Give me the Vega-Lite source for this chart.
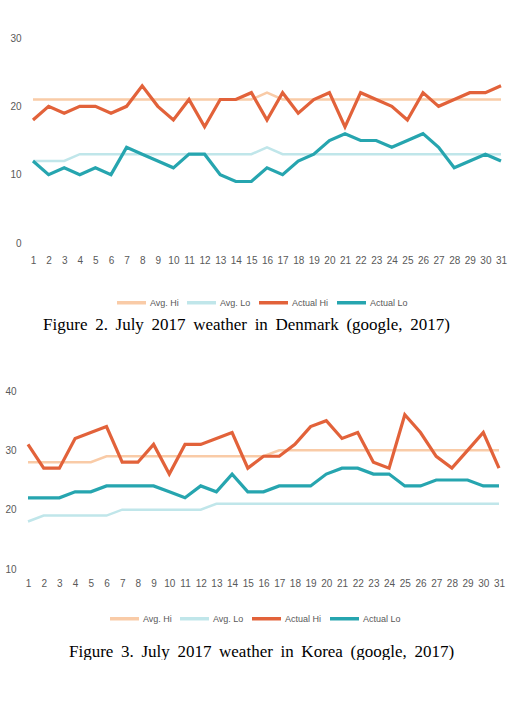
{
  "$schema": "https://vega.github.io/schema/vega-lite/v6.json",
  "padding": {"left": 4, "top": 33, "right": 0, "bottom": 0},
  "background": "white",
  "spacing": 53,
  "datasets": {
    "denmark": [
      {"day":1,"series":"Avg. Hi","temp":21},{"day":2,"series":"Avg. Hi","temp":21},{"day":3,"series":"Avg. Hi","temp":21},{"day":4,"series":"Avg. Hi","temp":21},{"day":5,"series":"Avg. Hi","temp":21},{"day":6,"series":"Avg. Hi","temp":21},{"day":7,"series":"Avg. Hi","temp":21},{"day":8,"series":"Avg. Hi","temp":21},{"day":9,"series":"Avg. Hi","temp":21},{"day":10,"series":"Avg. Hi","temp":21},{"day":11,"series":"Avg. Hi","temp":21},{"day":12,"series":"Avg. Hi","temp":21},{"day":13,"series":"Avg. Hi","temp":21},{"day":14,"series":"Avg. Hi","temp":21},{"day":15,"series":"Avg. Hi","temp":21},{"day":16,"series":"Avg. Hi","temp":22},{"day":17,"series":"Avg. Hi","temp":21},{"day":18,"series":"Avg. Hi","temp":21},{"day":19,"series":"Avg. Hi","temp":21},{"day":20,"series":"Avg. Hi","temp":21},{"day":21,"series":"Avg. Hi","temp":21},{"day":22,"series":"Avg. Hi","temp":21},{"day":23,"series":"Avg. Hi","temp":21},{"day":24,"series":"Avg. Hi","temp":21},{"day":25,"series":"Avg. Hi","temp":21},{"day":26,"series":"Avg. Hi","temp":21},{"day":27,"series":"Avg. Hi","temp":21},{"day":28,"series":"Avg. Hi","temp":21},{"day":29,"series":"Avg. Hi","temp":21},{"day":30,"series":"Avg. Hi","temp":21},{"day":31,"series":"Avg. Hi","temp":21},
      {"day":1,"series":"Avg. Lo","temp":12},{"day":2,"series":"Avg. Lo","temp":12},{"day":3,"series":"Avg. Lo","temp":12},{"day":4,"series":"Avg. Lo","temp":13},{"day":5,"series":"Avg. Lo","temp":13},{"day":6,"series":"Avg. Lo","temp":13},{"day":7,"series":"Avg. Lo","temp":13},{"day":8,"series":"Avg. Lo","temp":13},{"day":9,"series":"Avg. Lo","temp":13},{"day":10,"series":"Avg. Lo","temp":13},{"day":11,"series":"Avg. Lo","temp":13},{"day":12,"series":"Avg. Lo","temp":13},{"day":13,"series":"Avg. Lo","temp":13},{"day":14,"series":"Avg. Lo","temp":13},{"day":15,"series":"Avg. Lo","temp":13},{"day":16,"series":"Avg. Lo","temp":14},{"day":17,"series":"Avg. Lo","temp":13},{"day":18,"series":"Avg. Lo","temp":13},{"day":19,"series":"Avg. Lo","temp":13},{"day":20,"series":"Avg. Lo","temp":13},{"day":21,"series":"Avg. Lo","temp":13},{"day":22,"series":"Avg. Lo","temp":13},{"day":23,"series":"Avg. Lo","temp":13},{"day":24,"series":"Avg. Lo","temp":13},{"day":25,"series":"Avg. Lo","temp":13},{"day":26,"series":"Avg. Lo","temp":13},{"day":27,"series":"Avg. Lo","temp":13},{"day":28,"series":"Avg. Lo","temp":13},{"day":29,"series":"Avg. Lo","temp":13},{"day":30,"series":"Avg. Lo","temp":13},{"day":31,"series":"Avg. Lo","temp":13},
      {"day":1,"series":"Actual Hi","temp":18},{"day":2,"series":"Actual Hi","temp":20},{"day":3,"series":"Actual Hi","temp":19},{"day":4,"series":"Actual Hi","temp":20},{"day":5,"series":"Actual Hi","temp":20},{"day":6,"series":"Actual Hi","temp":19},{"day":7,"series":"Actual Hi","temp":20},{"day":8,"series":"Actual Hi","temp":23},{"day":9,"series":"Actual Hi","temp":20},{"day":10,"series":"Actual Hi","temp":18},{"day":11,"series":"Actual Hi","temp":21},{"day":12,"series":"Actual Hi","temp":17},{"day":13,"series":"Actual Hi","temp":21},{"day":14,"series":"Actual Hi","temp":21},{"day":15,"series":"Actual Hi","temp":22},{"day":16,"series":"Actual Hi","temp":18},{"day":17,"series":"Actual Hi","temp":22},{"day":18,"series":"Actual Hi","temp":19},{"day":19,"series":"Actual Hi","temp":21},{"day":20,"series":"Actual Hi","temp":22},{"day":21,"series":"Actual Hi","temp":17},{"day":22,"series":"Actual Hi","temp":22},{"day":23,"series":"Actual Hi","temp":21},{"day":24,"series":"Actual Hi","temp":20},{"day":25,"series":"Actual Hi","temp":18},{"day":26,"series":"Actual Hi","temp":22},{"day":27,"series":"Actual Hi","temp":20},{"day":28,"series":"Actual Hi","temp":21},{"day":29,"series":"Actual Hi","temp":22},{"day":30,"series":"Actual Hi","temp":22},{"day":31,"series":"Actual Hi","temp":23},
      {"day":1,"series":"Actual Lo","temp":12},{"day":2,"series":"Actual Lo","temp":10},{"day":3,"series":"Actual Lo","temp":11},{"day":4,"series":"Actual Lo","temp":10},{"day":5,"series":"Actual Lo","temp":11},{"day":6,"series":"Actual Lo","temp":10},{"day":7,"series":"Actual Lo","temp":14},{"day":8,"series":"Actual Lo","temp":13},{"day":9,"series":"Actual Lo","temp":12},{"day":10,"series":"Actual Lo","temp":11},{"day":11,"series":"Actual Lo","temp":13},{"day":12,"series":"Actual Lo","temp":13},{"day":13,"series":"Actual Lo","temp":10},{"day":14,"series":"Actual Lo","temp":9},{"day":15,"series":"Actual Lo","temp":9},{"day":16,"series":"Actual Lo","temp":11},{"day":17,"series":"Actual Lo","temp":10},{"day":18,"series":"Actual Lo","temp":12},{"day":19,"series":"Actual Lo","temp":13},{"day":20,"series":"Actual Lo","temp":15},{"day":21,"series":"Actual Lo","temp":16},{"day":22,"series":"Actual Lo","temp":15},{"day":23,"series":"Actual Lo","temp":15},{"day":24,"series":"Actual Lo","temp":14},{"day":25,"series":"Actual Lo","temp":15},{"day":26,"series":"Actual Lo","temp":16},{"day":27,"series":"Actual Lo","temp":14},{"day":28,"series":"Actual Lo","temp":11},{"day":29,"series":"Actual Lo","temp":12},{"day":30,"series":"Actual Lo","temp":13},{"day":31,"series":"Actual Lo","temp":12}
    ],
    "korea": [
      {"day":1,"series":"Avg. Hi","temp":28},{"day":2,"series":"Avg. Hi","temp":28},{"day":3,"series":"Avg. Hi","temp":28},{"day":4,"series":"Avg. Hi","temp":28},{"day":5,"series":"Avg. Hi","temp":28},{"day":6,"series":"Avg. Hi","temp":29},{"day":7,"series":"Avg. Hi","temp":29},{"day":8,"series":"Avg. Hi","temp":29},{"day":9,"series":"Avg. Hi","temp":29},{"day":10,"series":"Avg. Hi","temp":29},{"day":11,"series":"Avg. Hi","temp":29},{"day":12,"series":"Avg. Hi","temp":29},{"day":13,"series":"Avg. Hi","temp":29},{"day":14,"series":"Avg. Hi","temp":29},{"day":15,"series":"Avg. Hi","temp":29},{"day":16,"series":"Avg. Hi","temp":29},{"day":17,"series":"Avg. Hi","temp":30},{"day":18,"series":"Avg. Hi","temp":30},{"day":19,"series":"Avg. Hi","temp":30},{"day":20,"series":"Avg. Hi","temp":30},{"day":21,"series":"Avg. Hi","temp":30},{"day":22,"series":"Avg. Hi","temp":30},{"day":23,"series":"Avg. Hi","temp":30},{"day":24,"series":"Avg. Hi","temp":30},{"day":25,"series":"Avg. Hi","temp":30},{"day":26,"series":"Avg. Hi","temp":30},{"day":27,"series":"Avg. Hi","temp":30},{"day":28,"series":"Avg. Hi","temp":30},{"day":29,"series":"Avg. Hi","temp":30},{"day":30,"series":"Avg. Hi","temp":30},{"day":31,"series":"Avg. Hi","temp":30},
      {"day":1,"series":"Avg. Lo","temp":18},{"day":2,"series":"Avg. Lo","temp":19},{"day":3,"series":"Avg. Lo","temp":19},{"day":4,"series":"Avg. Lo","temp":19},{"day":5,"series":"Avg. Lo","temp":19},{"day":6,"series":"Avg. Lo","temp":19},{"day":7,"series":"Avg. Lo","temp":20},{"day":8,"series":"Avg. Lo","temp":20},{"day":9,"series":"Avg. Lo","temp":20},{"day":10,"series":"Avg. Lo","temp":20},{"day":11,"series":"Avg. Lo","temp":20},{"day":12,"series":"Avg. Lo","temp":20},{"day":13,"series":"Avg. Lo","temp":21},{"day":14,"series":"Avg. Lo","temp":21},{"day":15,"series":"Avg. Lo","temp":21},{"day":16,"series":"Avg. Lo","temp":21},{"day":17,"series":"Avg. Lo","temp":21},{"day":18,"series":"Avg. Lo","temp":21},{"day":19,"series":"Avg. Lo","temp":21},{"day":20,"series":"Avg. Lo","temp":21},{"day":21,"series":"Avg. Lo","temp":21},{"day":22,"series":"Avg. Lo","temp":21},{"day":23,"series":"Avg. Lo","temp":21},{"day":24,"series":"Avg. Lo","temp":21},{"day":25,"series":"Avg. Lo","temp":21},{"day":26,"series":"Avg. Lo","temp":21},{"day":27,"series":"Avg. Lo","temp":21},{"day":28,"series":"Avg. Lo","temp":21},{"day":29,"series":"Avg. Lo","temp":21},{"day":30,"series":"Avg. Lo","temp":21},{"day":31,"series":"Avg. Lo","temp":21},
      {"day":1,"series":"Actual Hi","temp":31},{"day":2,"series":"Actual Hi","temp":27},{"day":3,"series":"Actual Hi","temp":27},{"day":4,"series":"Actual Hi","temp":32},{"day":5,"series":"Actual Hi","temp":33},{"day":6,"series":"Actual Hi","temp":34},{"day":7,"series":"Actual Hi","temp":28},{"day":8,"series":"Actual Hi","temp":28},{"day":9,"series":"Actual Hi","temp":31},{"day":10,"series":"Actual Hi","temp":26},{"day":11,"series":"Actual Hi","temp":31},{"day":12,"series":"Actual Hi","temp":31},{"day":13,"series":"Actual Hi","temp":32},{"day":14,"series":"Actual Hi","temp":33},{"day":15,"series":"Actual Hi","temp":27},{"day":16,"series":"Actual Hi","temp":29},{"day":17,"series":"Actual Hi","temp":29},{"day":18,"series":"Actual Hi","temp":31},{"day":19,"series":"Actual Hi","temp":34},{"day":20,"series":"Actual Hi","temp":35},{"day":21,"series":"Actual Hi","temp":32},{"day":22,"series":"Actual Hi","temp":33},{"day":23,"series":"Actual Hi","temp":28},{"day":24,"series":"Actual Hi","temp":27},{"day":25,"series":"Actual Hi","temp":36},{"day":26,"series":"Actual Hi","temp":33},{"day":27,"series":"Actual Hi","temp":29},{"day":28,"series":"Actual Hi","temp":27},{"day":29,"series":"Actual Hi","temp":30},{"day":30,"series":"Actual Hi","temp":33},{"day":31,"series":"Actual Hi","temp":27},
      {"day":1,"series":"Actual Lo","temp":22},{"day":2,"series":"Actual Lo","temp":22},{"day":3,"series":"Actual Lo","temp":22},{"day":4,"series":"Actual Lo","temp":23},{"day":5,"series":"Actual Lo","temp":23},{"day":6,"series":"Actual Lo","temp":24},{"day":7,"series":"Actual Lo","temp":24},{"day":8,"series":"Actual Lo","temp":24},{"day":9,"series":"Actual Lo","temp":24},{"day":10,"series":"Actual Lo","temp":23},{"day":11,"series":"Actual Lo","temp":22},{"day":12,"series":"Actual Lo","temp":24},{"day":13,"series":"Actual Lo","temp":23},{"day":14,"series":"Actual Lo","temp":26},{"day":15,"series":"Actual Lo","temp":23},{"day":16,"series":"Actual Lo","temp":23},{"day":17,"series":"Actual Lo","temp":24},{"day":18,"series":"Actual Lo","temp":24},{"day":19,"series":"Actual Lo","temp":24},{"day":20,"series":"Actual Lo","temp":26},{"day":21,"series":"Actual Lo","temp":27},{"day":22,"series":"Actual Lo","temp":27},{"day":23,"series":"Actual Lo","temp":26},{"day":24,"series":"Actual Lo","temp":26},{"day":25,"series":"Actual Lo","temp":24},{"day":26,"series":"Actual Lo","temp":24},{"day":27,"series":"Actual Lo","temp":25},{"day":28,"series":"Actual Lo","temp":25},{"day":29,"series":"Actual Lo","temp":25},{"day":30,"series":"Actual Lo","temp":24},{"day":31,"series":"Actual Lo","temp":24}
    ]
  },
  "config": {
    "view": {"stroke": null},
    "axis": {
      "grid": false,
      "domain": false,
      "ticks": false,
      "title": null,
      "labelFont": "Liberation Sans Narrow, Liberation Sans, sans-serif",
      "labelFontSize": 10,
      "labelColor": "#595959"
    },
    "legend": {
      "labelFont": "Liberation Sans Narrow, Liberation Sans, sans-serif",
      "labelFontSize": 9,
      "labelColor": "#595959",
      "gridAlign": "each"
    },
    "title": {
      "font": "Liberation Serif",
      "fontSize": 17,
      "fontWeight": "normal",
      "color": "#000000",
      "anchor": "middle",
      "orient": "bottom"
    }
  },
  "resolve": {"scale": {"color": "independent", "x": "independent", "y": "independent"}, "legend": {"color": "independent"}},
  "vconcat": [
    {
      "width": 473,
      "height": 205,
      "data": {"name": "denmark"},
      "title": {"text": "Figure \u20092. \u2009July \u20092017 \u2009weather \u2009in \u2009Denmark \u2009(google, \u20092017)", "offset": 7, "dx": -18},
      "encoding": {
        "x": {"field": "day", "type": "quantitative", "scale": {"domain": [0.68, 31], "nice": false, "zero": false},
              "axis": {"values": [1,2,3,4,5,6,7,8,9,10,11,12,13,14,15,16,17,18,19,20,21,22,23,24,25,26,27,28,29,30,31], "format": "d", "labelPadding": 12, "labelFlush": false, "labelOverlap": false}},
        "y": {"field": "temp", "type": "quantitative", "scale": {"domain": [0, 30], "nice": false},
              "axis": {"values": [0, 10, 20, 30], "labelPadding": 7}},
        "color": {
          "field": "series", "type": "nominal",
          "scale": {"domain": ["Avg. Hi", "Avg. Lo", "Actual Hi", "Actual Lo"], "range": ["#F9CBA7", "#C0E6EA", "#E2623A", "#26A5AF"]},
          "legend": {"orient": "none", "legendX": 87, "legendY": 248, "direction": "horizontal", "title": null, "symbolType": "stroke", "symbolSize": 841, "symbolStrokeWidth": 3.5, "labelOffset": 2, "columnPadding": 1, "gridAlign": "each"}
        }
      },
      "layer": [
        {"transform": [{"filter": {"field": "series", "oneOf": ["Avg. Hi", "Avg. Lo"]}}], "mark": {"type": "line", "strokeWidth": 2.5}},
        {"transform": [{"filter": {"field": "series", "oneOf": ["Actual Hi", "Actual Lo"]}}], "mark": {"type": "line", "strokeWidth": 3.2}}
      ]
    },
    {
      "width": 471,
      "height": 178,
      "data": {"name": "korea"},
      "title": {"text": "Figure \u20093. \u2009July \u20092017 \u2009weather \u2009in \u2009Korea \u2009(google, \u20092017)", "offset": 18, "dx": -2},
      "encoding": {
        "x": {"field": "day", "type": "quantitative", "scale": {"domain": [1, 31], "nice": false, "zero": false},
              "axis": {"values": [1,2,3,4,5,6,7,8,9,10,11,12,13,14,15,16,17,18,19,20,21,22,23,24,25,26,27,28,29,30,31], "format": "d", "labelPadding": 9, "labelFlush": false, "labelOverlap": false}},
        "y": {"field": "temp", "type": "quantitative", "scale": {"domain": [10, 40], "nice": false, "zero": false},
              "axis": {"values": [10, 20, 30, 40], "labelPadding": 12}},
        "color": {
          "field": "series", "type": "nominal",
          "scale": {"domain": ["Avg. Hi", "Avg. Lo", "Actual Hi", "Actual Lo"], "range": ["#F9CBA7", "#C0E6EA", "#E2623A", "#26A5AF"]},
          "legend": {"orient": "none", "legendX": 80, "legendY": 211, "direction": "horizontal", "title": null, "symbolType": "stroke", "symbolSize": 841, "symbolStrokeWidth": 3.5, "labelOffset": 2, "columnPadding": 1, "gridAlign": "each"}
        }
      },
      "layer": [
        {"transform": [{"filter": {"field": "series", "oneOf": ["Avg. Hi", "Avg. Lo"]}}], "mark": {"type": "line", "strokeWidth": 2.5}},
        {"transform": [{"filter": {"field": "series", "oneOf": ["Actual Hi", "Actual Lo"]}}], "mark": {"type": "line", "strokeWidth": 3.2}}
      ]
    }
  ]
}
